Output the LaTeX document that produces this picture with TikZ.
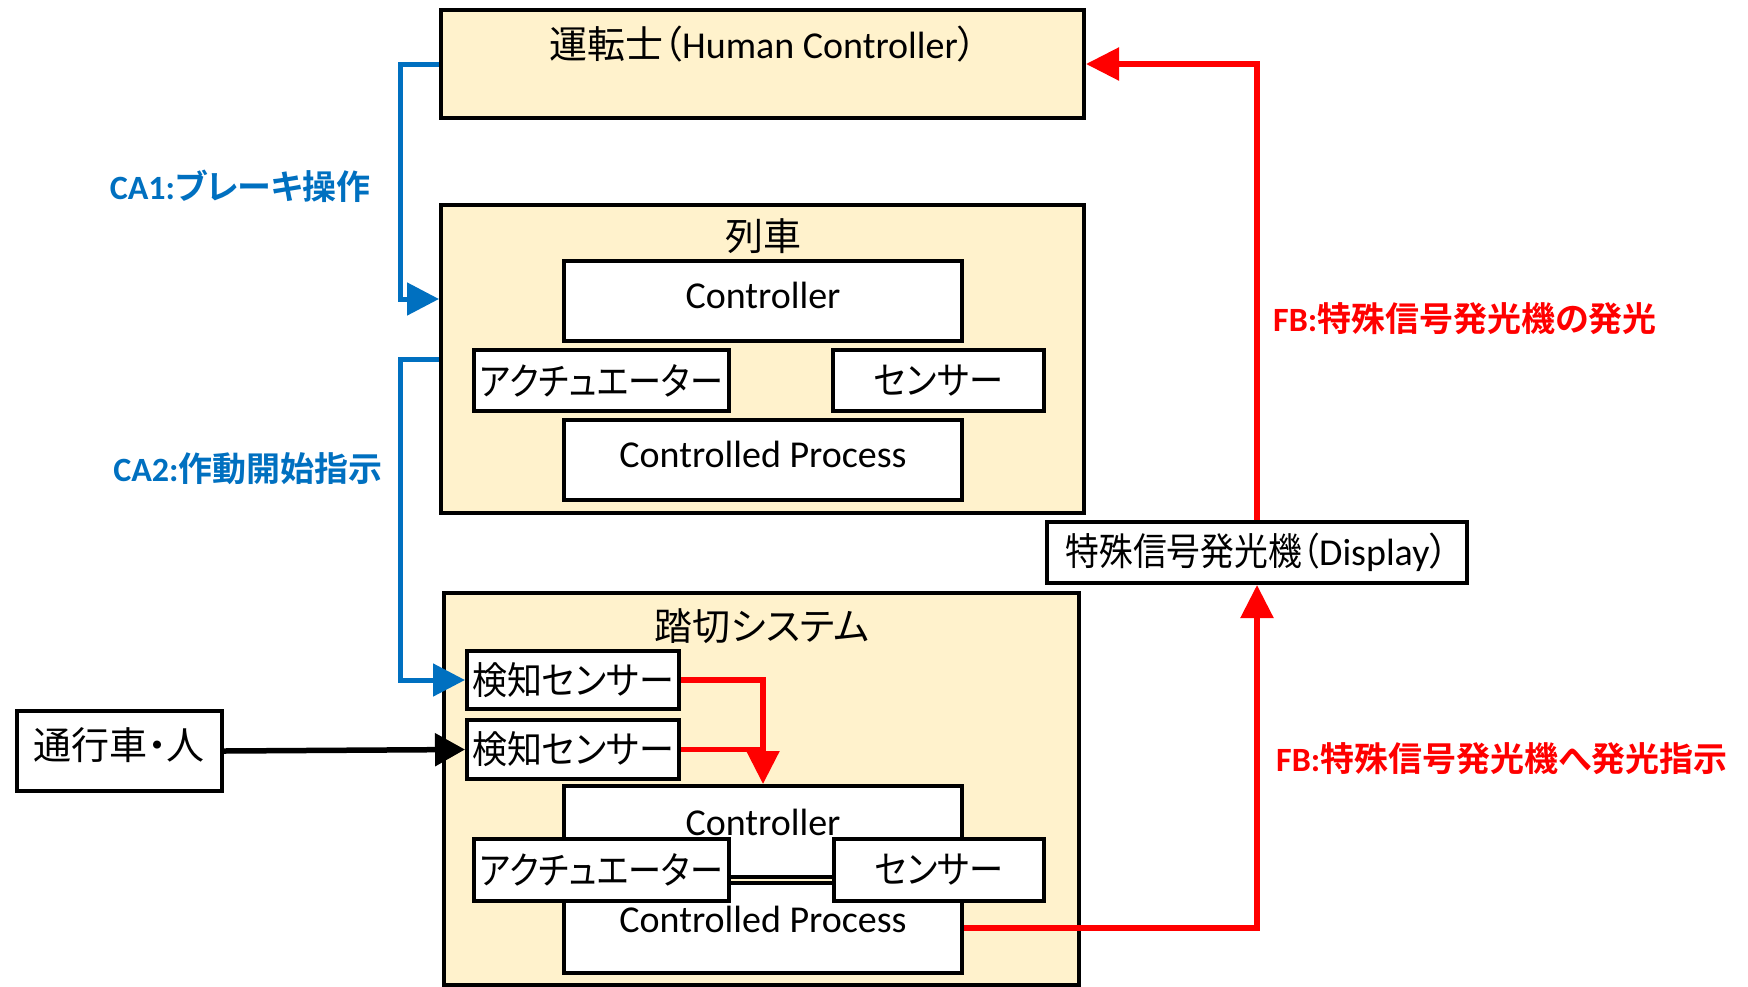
\documentclass[tikz,border=0pt]{standalone}
\usepackage{fontspec}
\usepackage{graphicx}
\setmainfont{Carlito}
\newfontfamily\jp[RawFeature=+palt,BoldFont={Noto Sans CJK JP Bold}]{Noto Sans CJK JP}
\usetikzlibrary{arrows.meta}
\newcommand{\J}[1]{{\jp #1}}
\newcommand{\JS}[2]{\scalebox{#1}[1]{\jp #2}}
\definecolor{cream}{HTML}{FFF2CC}
\definecolor{cablue}{HTML}{0070C0}
\definecolor{fbred}{HTML}{FF0000}
\begin{document}
\begin{tikzpicture}[x=1pt,y=-1pt,
  txt/.style={inner sep=0pt, font=\fontsize{38}{44}\selectfont},
  lbl/.style={inner sep=0pt, font=\fontsize{34}{40}\selectfont\bfseries},
  container/.style={draw=black, line width=4pt, fill=cream, inner sep=0pt},
  wbox/.style={draw=black, line width=4pt, fill=white, inner sep=0pt, font=\fontsize{38}{44}\selectfont},
  bl/.style={draw=cablue, line width=5pt, -{Triangle[length=32pt,width=32pt]}},
  rd/.style={draw=fbred, line width=5.5pt},
  rda/.style={rd, -{Triangle[length=33pt,width=32pt]}},
  bk/.style={draw=black, line width=5.5pt, -{Triangle[length=30pt,width=32pt]}},
]
\useasboundingbox (0,0) rectangle (1748,986);
\fill[white] (0,0) rectangle (1748,986);

% driver
\node[container, minimum width=643pt, minimum height=108pt] (dr) at (762.5,64) {};
\node[txt] (drt) at (763,44) {\J{運転士（}Human Controller\J{）}};

% train
\node[container, minimum width=643pt, minimum height=308pt] (train) at (762.5,359) {};
\node[txt] (traint) at (763,236) {\J{列車}};
\node[wbox, minimum width=398pt, minimum height=80pt] (tc) at (763,301) {};
\node[txt] (tct) at (763,295) {Controller};
\node[wbox, minimum width=255pt, minimum height=61pt] (ta) at (601.5,380.5) {\JS{0.87}{アクチュエーター}};
\node[wbox, minimum width=211pt, minimum height=61pt] (ts) at (938.5,380.5) {\JS{0.9}{センサー}};
\node[wbox, minimum width=398pt, minimum height=80pt] (tp) at (763,460) {};
\node[txt] (tpt) at (763,454) {Controlled Process};

% display
\node[wbox, minimum width=420pt, minimum height=61pt] (disp) at (1257,552.5) {\JS{0.89}{特殊信号発光機（}Display\J{）}};

% crossing system
\node[container, minimum width=635pt, minimum height=392pt] (cross) at (761.5,789) {};
\node[txt] (crosst) at (762,626) {\J{踏切システム}};
\node[wbox, minimum width=212pt, minimum height=58pt] (k1) at (573,680) {\JS{0.92}{検知センサー}};
\node[wbox, minimum width=212pt, minimum height=59pt] (k2) at (573,749.5) {\JS{0.92}{検知センサー}};
\node[wbox, minimum width=398pt, minimum height=91pt] (bc) at (763,831.5) {};
\node[txt] (bct) at (763,822) {Controller};
\node[wbox, minimum width=398pt, minimum height=90pt] (bp) at (763,928) {};
\node[txt] (bpt) at (763,919) {Controlled Process};
\node[wbox, minimum width=255pt, minimum height=62pt] (ba) at (601.5,870) {\JS{0.87}{アクチュエーター}};
\node[wbox, minimum width=210pt, minimum height=62pt] (bs) at (939,870) {\JS{0.9}{センサー}};

% walker
\node[wbox, minimum width=205pt, minimum height=80pt] (walk) at (119.5,751) {};
\node[txt] (walkt) at (119,745) {\J{通行車・人}};

% connectors
\draw[bl] (dr.west) -- ++(-39,0) |- ([yshift=60pt]train.west);
\draw[bl] (train.west) -- ++(-39,0) |- (k1.west);
\draw[bk] (walk.east) -- (k2.west);
\draw[rd] (k2.east) -- (k2.east -| bc.north);
\draw[rda] (k1.east) -| (bc.north);
\draw[rda] (bp.east) -| (disp.south);
\draw[rda] (disp.north) |- (dr.east);

% labels
\node[lbl, text=cablue] (ca1) at (240,186) {CA1:\J{ブレーキ操作}};
\node[lbl, text=cablue] (ca2) at (248,469) {CA2:\J{作動開始指示}};
\node[lbl, text=fbred, anchor=west] (fb1) at (1273,319) {FB:\J{特殊信号発光機の発光}};
\node[lbl, text=fbred, anchor=west] (fb2) at (1276,759) {FB:\J{特殊信号発光機へ発光指示}};
\end{tikzpicture}
\end{document}
